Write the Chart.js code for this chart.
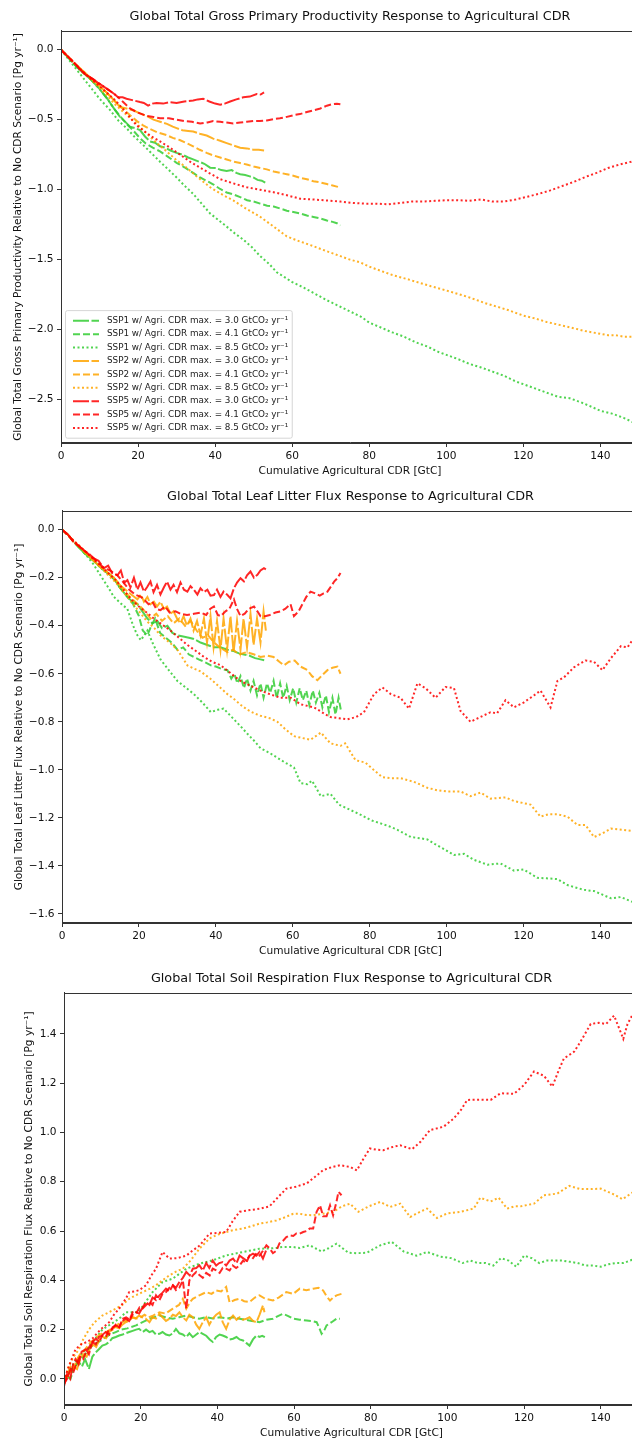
<!DOCTYPE html>
<html><head><meta charset="utf-8">
<script src="https://cdn.jsdelivr.net/npm/chart.js@4.4.1/dist/chart.umd.min.js"></script>
<style>
html,body{margin:0;padding:0;background:#fff;}
#wrap{position:relative;width:632px;height:1438px;overflow:hidden;background:#fff;}
canvas{position:absolute;left:0;}
</style></head><body>
<div id="wrap">
<canvas id="c1" width="650" height="480" style="top:0px"></canvas>
<canvas id="c2" width="650" height="480" style="top:480px"></canvas>
<canvas id="c3" width="650" height="480" style="top:962px"></canvas>
</div>
<script>
// ---------- tick labels ----------
const xTicks = [0, 20, 40, 60, 80, 100, 120, 140];
const gppYTicks = [0.0, -0.5, -1.0, -1.5, -2.0, -2.5];
const litYTicks = [0.0, -0.2, -0.4, -0.6, -0.8, -1.0, -1.2, -1.4, -1.6];
const soilYTicks = [0.0, 0.2, 0.4, 0.6, 0.8, 1.0, 1.2, 1.4];

// ---------- series labels ----------
const seriesLabels = [
  'SSP1 w/ Agri. CDR max. = 3.0 GtCO₂ yr⁻¹',
  'SSP1 w/ Agri. CDR max. = 4.1 GtCO₂ yr⁻¹',
  'SSP1 w/ Agri. CDR max. = 8.5 GtCO₂ yr⁻¹',
  'SSP2 w/ Agri. CDR max. = 3.0 GtCO₂ yr⁻¹',
  'SSP2 w/ Agri. CDR max. = 4.1 GtCO₂ yr⁻¹',
  'SSP2 w/ Agri. CDR max. = 8.5 GtCO₂ yr⁻¹',
  'SSP5 w/ Agri. CDR max. = 3.0 GtCO₂ yr⁻¹',
  'SSP5 w/ Agri. CDR max. = 4.1 GtCO₂ yr⁻¹',
  'SSP5 w/ Agri. CDR max. = 8.5 GtCO₂ yr⁻¹'
];

// ---------- GPP panel data [cumulative CDR GtC, response Pg/yr] ----------
const gppSSP1_30 = [[0,0],[2,-0.06],[4,-0.12],[6,-0.17],[8,-0.22],[10,-0.28],[12,-0.35],[14,-0.43],[15.3,-0.48],[16.5,-0.51],[17.9,-0.55],[19.2,-0.56],[20.5,-0.575],[21.8,-0.62],[23.1,-0.655],[24.4,-0.665],[25.7,-0.69],[27,-0.70],[28.4,-0.72],[30,-0.737],[31.5,-0.75],[33,-0.77],[34.3,-0.784],[35.8,-0.80],[37.2,-0.815],[38.7,-0.843],[40.2,-0.845],[41.6,-0.86],[43,-0.866],[44.3,-0.86],[45.5,-0.88],[46.5,-0.89],[47.8,-0.895],[49,-0.905],[49.9,-0.913],[51,-0.93],[52.1,-0.936],[53,-0.95]];
const gppSSP1_41 = [[0,0],[2,-0.06],[4,-0.12],[6,-0.17],[8,-0.22],[10,-0.28],[12,-0.35],[14,-0.43],[15.5,-0.48],[17,-0.53],[18.5,-0.57],[20.5,-0.632],[22,-0.67],[23.8,-0.70],[25.7,-0.726],[27.5,-0.76],[30,-0.808],[32,-0.84],[34,-0.875],[36.1,-0.913],[38,-0.94],[39.7,-0.965],[41.3,-0.995],[43,-1.02],[44.8,-1.035],[46.5,-1.053],[48.3,-1.075],[50,-1.085],[51.7,-1.10],[53.5,-1.115],[55.2,-1.12],[56.9,-1.135],[58.6,-1.15],[60.3,-1.16],[62.1,-1.17],[63.8,-1.185],[65.5,-1.195],[67.3,-1.206],[69,-1.22],[70.5,-1.23],[71.6,-1.24],[72.5,-1.255]];
const gppSSP1_85 = [[0,0],[2,-0.07],[4,-0.14],[6,-0.21],[8,-0.28],[10,-0.35],[12.7,-0.43],[15,-0.51],[17,-0.56],[19,-0.62],[21.3,-0.68],[23.5,-0.74],[25.7,-0.80],[28,-0.86],[30,-0.913],[32,-0.97],[34.3,-1.03],[36.5,-1.10],[38.7,-1.17],[41,-1.22],[43,-1.264],[45,-1.31],[47.3,-1.357],[49.5,-1.41],[51.7,-1.475],[54,-1.53],[56,-1.59],[58,-1.625],[60,-1.66],[63,-1.70],[66,-1.745],[69,-1.79],[72,-1.83],[75,-1.87],[78,-1.91],[80,-1.95],[83,-1.985],[86,-2.02],[89,-2.05],[92,-2.09],[95,-2.12],[98,-2.16],[100,-2.18],[103,-2.21],[106,-2.245],[109,-2.27],[112,-2.30],[115,-2.33],[118,-2.37],[120,-2.39],[123,-2.42],[126,-2.45],[129,-2.48],[132,-2.49],[135,-2.52],[138,-2.555],[140,-2.58],[143,-2.60],[146,-2.63],[148.3,-2.66],[150,-2.68]];
const gppSSP2_30 = [[0,0],[2,-0.055],[4,-0.11],[6,-0.16],[8,-0.21],[10,-0.26],[12,-0.31],[13.8,-0.36],[15.3,-0.41],[17,-0.42],[18.7,-0.433],[20.5,-0.455],[22.2,-0.473],[24,-0.50],[25.7,-0.515],[27.5,-0.53],[29,-0.55],[30,-0.56],[31.5,-0.575],[33,-0.58],[34.3,-0.585],[36,-0.60],[37.8,-0.613],[39.5,-0.635],[41.3,-0.65],[43,-0.667],[44.8,-0.685],[46.5,-0.70],[48.2,-0.705],[49.9,-0.714],[51.3,-0.715],[52.7,-0.72]];
const gppSSP2_41 = [[0,0],[2,-0.055],[4,-0.11],[6,-0.16],[8,-0.21],[10,-0.26],[12,-0.31],[14,-0.37],[16,-0.42],[18,-0.47],[19.7,-0.51],[21.3,-0.54],[23,-0.565],[25,-0.59],[27.4,-0.61],[29,-0.63],[30.8,-0.645],[32.6,-0.667],[34.3,-0.69],[36,-0.715],[37.8,-0.737],[39.5,-0.755],[41.3,-0.77],[43,-0.784],[44.8,-0.80],[46.5,-0.81],[48.2,-0.82],[50,-0.835],[51.7,-0.845],[53.4,-0.855],[55.2,-0.87],[56.9,-0.88],[58.6,-0.89],[60.3,-0.90],[62,-0.915],[63.8,-0.925],[65.5,-0.94],[67.3,-0.948],[69,-0.96],[70.5,-0.97],[71.6,-0.978],[72.5,-0.985]];
const gppSSP2_85 = [[0,0],[2,-0.055],[4,-0.11],[6,-0.17],[8,-0.22],[10,-0.27],[12,-0.33],[14,-0.39],[16,-0.44],[18,-0.49],[19.7,-0.53],[21.3,-0.573],[23,-0.62],[25,-0.67],[27.4,-0.726],[30,-0.79],[32.6,-0.843],[35,-0.90],[38.7,-0.983],[41.5,-1.03],[44.7,-1.077],[48,-1.135],[51.7,-1.194],[55,-1.26],[58.6,-1.334],[62,-1.37],[65.5,-1.404],[69,-1.44],[72.5,-1.475],[75,-1.50],[77.7,-1.52],[80,-1.55],[83,-1.58],[86,-1.61],[90,-1.64],[93,-1.665],[96,-1.69],[100,-1.72],[103,-1.745],[106,-1.77],[110,-1.81],[113,-1.835],[116,-1.86],[120,-1.90],[123,-1.92],[126,-1.945],[130,-1.97],[133,-1.99],[136,-2.01],[140,-2.03],[142,-2.04],[144,-2.04],[146,-2.05],[148.3,-2.05],[150,-2.06]];
const gppSSP5_30 = [[0,0],[2,-0.055],[4,-0.11],[4.9,-0.14],[6.5,-0.18],[8.3,-0.21],[9.5,-0.235],[10.9,-0.26],[12.5,-0.29],[14,-0.32],[14.8,-0.34],[16,-0.34],[17,-0.35],[18.5,-0.36],[20.5,-0.374],[21.5,-0.38],[22.6,-0.40],[23.7,-0.385],[24.8,-0.38],[26.5,-0.385],[28,-0.375],[30,-0.38],[32,-0.37],[34.3,-0.363],[35.5,-0.355],[36.9,-0.35],[38.5,-0.37],[40,-0.385],[41.3,-0.393],[42.5,-0.385],[43.9,-0.37],[45.5,-0.355],[47.3,-0.34],[49,-0.335],[50.8,-0.316],[51.8,-0.32],[52.7,-0.305]];
const gppSSP5_41 = [[0,0],[2,-0.055],[4,-0.11],[4.9,-0.14],[6.5,-0.18],[8.3,-0.21],[10.9,-0.26],[12.5,-0.29],[14,-0.32],[14.8,-0.34],[16,-0.37],[17.9,-0.42],[20,-0.45],[22.2,-0.473],[24,-0.48],[25.7,-0.49],[28,-0.49],[30,-0.50],[32,-0.51],[34,-0.515],[36.1,-0.527],[38,-0.52],[39.5,-0.51],[41.3,-0.515],[43,-0.52],[44.7,-0.527],[46.5,-0.52],[48.2,-0.515],[49.9,-0.51],[51.6,-0.51],[53.4,-0.505],[55.1,-0.496],[56.8,-0.49],[58.6,-0.48],[60.3,-0.468],[62,-0.46],[63.8,-0.445],[65.5,-0.433],[67.3,-0.42],[69,-0.40],[70.3,-0.39],[71.6,-0.386],[72.5,-0.39]];
const gppSSP5_85 = [[0,0],[2,-0.055],[4,-0.11],[6,-0.165],[8,-0.215],[10,-0.26],[12,-0.31],[14,-0.36],[16,-0.42],[17.5,-0.47],[19.6,-0.54],[21.5,-0.58],[23.5,-0.62],[25.7,-0.655],[28.3,-0.70],[30.9,-0.75],[33.5,-0.80],[36.1,-0.843],[38.7,-0.885],[41.3,-0.925],[44.7,-0.955],[48.2,-0.983],[51.6,-1.0],[55.1,-1.018],[58.6,-1.04],[62.1,-1.065],[65.5,-1.07],[69,-1.077],[72.5,-1.085],[75.9,-1.095],[79,-1.10],[82,-1.10],[85,-1.105],[88,-1.095],[91,-1.085],[94,-1.085],[97,-1.08],[100,-1.075],[103,-1.075],[106,-1.08],[109,-1.07],[112,-1.085],[115,-1.085],[118,-1.07],[121,-1.05],[124,-1.03],[127,-1.005],[130,-0.975],[133,-0.945],[136,-0.91],[139,-0.88],[142,-0.845],[145,-0.82],[148,-0.80],[150,-0.78]];

// ---------- Leaf litter panel data ----------
const litSSP1_30 = [[0,0],[1.5,-0.02],[3,-0.05],[4.5,-0.075],[6,-0.10],[8.3,-0.13],[10.5,-0.165],[12.6,-0.19],[14,-0.215],[15,-0.24],[16,-0.26],[17,-0.28],[18.3,-0.30],[19.6,-0.31],[20.9,-0.34],[22.2,-0.37],[23.5,-0.39],[24.8,-0.38],[26,-0.41],[27.4,-0.40],[28.7,-0.43],[30,-0.44],[31.5,-0.445],[33,-0.45],[34.3,-0.455],[36,-0.47],[37.8,-0.48],[39.5,-0.49],[41.2,-0.49],[43,-0.50],[44.5,-0.505],[46,-0.515],[47.3,-0.52],[48.8,-0.525],[50.2,-0.535],[51.6,-0.54],[53,-0.545]];
const litSSP1_41 = [[0,0],[1.5,-0.02],[3,-0.05],[4.5,-0.075],[6,-0.10],[8.3,-0.13],[10.5,-0.165],[12.6,-0.19],[14,-0.215],[15,-0.24],[17,-0.28],[18.5,-0.31],[20,-0.36],[21,-0.42],[22.2,-0.44],[23.2,-0.40],[24.2,-0.37],[25.5,-0.43],[27,-0.45],[28.5,-0.47],[30,-0.50],[31.5,-0.49],[33,-0.52],[34.3,-0.53],[35.5,-0.54],[37,-0.55],[38.7,-0.565],[40,-0.57],[41.5,-0.58],[43,-0.585],[44,-0.62],[44.8,-0.60],[45.6,-0.64],[46.4,-0.61],[47.3,-0.66],[48.1,-0.62],[49,-0.67],[49.8,-0.63],[50.7,-0.69],[51.6,-0.64],[52.4,-0.70],[53.3,-0.64],[54.1,-0.68],[55,-0.63],[55.8,-0.70],[56.7,-0.64],[57.5,-0.70],[58.4,-0.65],[59.2,-0.71],[60.1,-0.66],[60.9,-0.72],[61.8,-0.66],[62.6,-0.71],[63.5,-0.67],[64.3,-0.73],[65.2,-0.67],[66,-0.72],[66.9,-0.68],[67.7,-0.74],[68.6,-0.69],[69.4,-0.76],[70.3,-0.70],[71.1,-0.77],[71.9,-0.70],[72.6,-0.76]];
const litSSP1_85 = [[0,0],[2,-0.03],[4,-0.065],[6,-0.10],[8,-0.14],[10,-0.19],[12,-0.24],[13.5,-0.28],[15.5,-0.31],[17,-0.33],[18.5,-0.40],[19.6,-0.44],[20.5,-0.46],[22.2,-0.42],[23.5,-0.47],[25.6,-0.54],[28,-0.59],[30,-0.63],[32,-0.655],[34.3,-0.685],[36.5,-0.72],[38.7,-0.76],[40.5,-0.75],[42,-0.745],[44.7,-0.79],[46.5,-0.82],[48.2,-0.85],[50,-0.88],[51.6,-0.91],[54,-0.93],[56,-0.95],[58,-0.97],[60.3,-0.99],[62,-1.055],[63.8,-1.06],[65,-1.045],[67.3,-1.11],[69.8,-1.10],[72,-1.145],[74,-1.16],[76,-1.175],[78,-1.19],[80.3,-1.21],[83.2,-1.225],[85,-1.235],[87.2,-1.25],[90.7,-1.28],[93,-1.285],[95,-1.29],[97,-1.31],[99.3,-1.33],[101.9,-1.355],[104.5,-1.35],[107.1,-1.375],[110.6,-1.395],[114,-1.39],[117.5,-1.42],[120,-1.415],[123.6,-1.45],[126,-1.452],[128.8,-1.455],[131.4,-1.48],[133.5,-1.49],[135.7,-1.50],[138.3,-1.505],[140.5,-1.52],[142.7,-1.535],[145.3,-1.53],[148.3,-1.55],[150,-1.56]];
const litSSP2_30 = [[0,0],[1.5,-0.02],[3,-0.05],[4.5,-0.07],[6,-0.095],[8,-0.125],[10,-0.155],[12,-0.18],[13.5,-0.20],[15,-0.23],[16.5,-0.25],[18,-0.27],[19.6,-0.29],[20.5,-0.27],[21.3,-0.30],[22.2,-0.28],[23,-0.31],[23.9,-0.30],[24.7,-0.32],[25.6,-0.30],[26.5,-0.33],[27.3,-0.32],[28.2,-0.35],[29,-0.34],[29.9,-0.37],[30.8,-0.39],[31.6,-0.36],[32.5,-0.40],[33.4,-0.37],[34.2,-0.42],[35.1,-0.38],[36,-0.44],[36.9,-0.37],[37.7,-0.47],[38.6,-0.36],[39.4,-0.49],[40.3,-0.38],[41.2,-0.50],[42,-0.37],[42.9,-0.50],[43.8,-0.36],[44.6,-0.51],[45.5,-0.38],[46.4,-0.50],[47.2,-0.37],[48.1,-0.49],[49,-0.35],[49.8,-0.48],[50.7,-0.37],[51.6,-0.47],[52.4,-0.34],[53,-0.42]];
const litSSP2_41 = [[0,0],[1.5,-0.02],[3,-0.05],[4.5,-0.07],[6,-0.095],[8,-0.125],[10,-0.155],[12,-0.18],[13.5,-0.20],[15,-0.23],[17,-0.27],[19,-0.30],[21,-0.33],[23,-0.37],[24.5,-0.35],[26,-0.38],[27.5,-0.36],[29,-0.39],[30.5,-0.37],[32,-0.40],[33.5,-0.38],[35,-0.42],[36.5,-0.45],[38,-0.44],[39.5,-0.47],[41,-0.49],[43,-0.51],[44.5,-0.50],[46,-0.52],[48,-0.51],[50,-0.52],[51.6,-0.53],[53.5,-0.525],[55,-0.53],[56.5,-0.55],[57.7,-0.565],[59,-0.55],[60.5,-0.545],[62,-0.57],[63.8,-0.585],[65,-0.61],[66.4,-0.627],[67.7,-0.605],[69,-0.585],[70.3,-0.575],[71.6,-0.57],[72.4,-0.60]];
const litSSP2_85 = [[0,0],[2,-0.03],[4,-0.06],[6,-0.09],[8,-0.125],[10,-0.155],[12,-0.19],[14,-0.22],[16,-0.26],[18,-0.30],[20,-0.34],[22,-0.38],[24,-0.41],[25.6,-0.44],[28,-0.47],[30,-0.50],[32.6,-0.565],[34.5,-0.58],[36,-0.59],[38.5,-0.62],[41.3,-0.66],[43,-0.685],[44.7,-0.705],[46.5,-0.73],[48.2,-0.75],[50,-0.765],[51.6,-0.775],[54,-0.785],[56,-0.80],[58,-0.83],[60.3,-0.86],[62,-0.866],[64.6,-0.875],[67.3,-0.845],[69.8,-0.89],[72.4,-0.90],[73.6,-0.89],[76.3,-0.96],[78.9,-0.97],[81,-1.0],[83.2,-1.03],[85.5,-1.035],[88,-1.035],[91.5,-1.05],[95,-1.075],[97.5,-1.085],[100.2,-1.09],[103.6,-1.09],[106.2,-1.11],[108.8,-1.095],[111.4,-1.12],[115.3,-1.115],[117.5,-1.13],[121.8,-1.145],[124.4,-1.195],[126.5,-1.185],[128.8,-1.185],[131.4,-1.195],[134,-1.23],[136.1,-1.23],[138.3,-1.28],[140.5,-1.265],[142.7,-1.245],[145.7,-1.25],[148.3,-1.255],[150,-1.255]];
const litSSP5_30 = [[0,0],[1.5,-0.02],[3,-0.05],[4.5,-0.07],[6,-0.09],[7,-0.10],[8.3,-0.12],[9.5,-0.13],[10.9,-0.16],[12,-0.15],[13,-0.18],[14.4,-0.19],[15.3,-0.17],[16.2,-0.22],[17,-0.21],[17.8,-0.24],[18.7,-0.20],[19.6,-0.25],[20.4,-0.22],[21.3,-0.258],[22.1,-0.24],[23,-0.216],[23.8,-0.26],[24.7,-0.23],[25.6,-0.27],[26.5,-0.24],[27.3,-0.216],[28.2,-0.25],[29,-0.23],[29.9,-0.26],[30.8,-0.22],[31.7,-0.25],[32.6,-0.258],[33.4,-0.235],[34.3,-0.25],[35.2,-0.27],[36,-0.244],[36.9,-0.26],[37.8,-0.25],[38.6,-0.275],[39.5,-0.272],[40.3,-0.25],[41.2,-0.28],[42,-0.258],[42.9,-0.27],[43.8,-0.286],[44.7,-0.244],[45.5,-0.22],[46.4,-0.202],[47.3,-0.215],[48.1,-0.19],[49,-0.174],[49.9,-0.20],[50.8,-0.188],[51.6,-0.17],[52.5,-0.16],[53,-0.165]];
const litSSP5_41 = [[0,0],[1.5,-0.02],[3,-0.05],[4.5,-0.07],[6,-0.09],[8.3,-0.12],[10.9,-0.16],[12.5,-0.17],[14.4,-0.19],[16,-0.22],[17.5,-0.25],[19,-0.27],[20.5,-0.28],[21.3,-0.29],[22.5,-0.31],[23.5,-0.30],[24.5,-0.33],[25.6,-0.335],[26.8,-0.32],[28,-0.345],[29.5,-0.34],[30.8,-0.35],[32.5,-0.355],[34.3,-0.35],[36,-0.345],[37.5,-0.355],[38.5,-0.33],[39.5,-0.32],[40.5,-0.355],[41.3,-0.36],[42.5,-0.34],[43.5,-0.33],[44.7,-0.29],[45.5,-0.33],[46.4,-0.36],[47.5,-0.35],[48.5,-0.33],[49.9,-0.32],[50.8,-0.34],[51.6,-0.36],[52.8,-0.36],[54,-0.355],[55.5,-0.345],[56.8,-0.34],[58,-0.33],[59.4,-0.31],[60.3,-0.36],[61.5,-0.34],[62.5,-0.31],[63.5,-0.28],[64.6,-0.258],[65.8,-0.265],[67,-0.275],[68,-0.265],[69,-0.258],[70,-0.235],[70.8,-0.215],[71.6,-0.202],[72.4,-0.18]];
const litSSP5_85 = [[0,0],[2,-0.03],[4,-0.06],[6,-0.09],[8,-0.12],[10,-0.15],[12,-0.18],[14,-0.21],[16,-0.25],[18,-0.29],[20,-0.32],[22,-0.345],[23.9,-0.37],[26,-0.395],[28.2,-0.42],[30.4,-0.45],[32.6,-0.48],[34.8,-0.505],[36.9,-0.53],[39,-0.55],[41.3,-0.565],[44,-0.60],[46.4,-0.63],[49,-0.65],[51.6,-0.67],[54,-0.685],[56.8,-0.70],[59.5,-0.70],[62,-0.727],[65.5,-0.74],[68.6,-0.77],[69.8,-0.78],[72,-0.785],[74.2,-0.79],[76.5,-0.78],[78.5,-0.76],[81.1,-0.685],[83.3,-0.657],[85.5,-0.685],[88,-0.70],[90.2,-0.745],[92.4,-0.64],[94.5,-0.66],[97.1,-0.70],[99.7,-0.655],[101.9,-0.66],[103.6,-0.755],[106.2,-0.80],[108.8,-0.78],[111.4,-0.76],[113.1,-0.765],[115.3,-0.71],[117.5,-0.74],[120,-0.72],[122.7,-0.69],[124.4,-0.67],[127,-0.74],[128.8,-0.63],[130.5,-0.615],[133.1,-0.573],[136.1,-0.545],[138.3,-0.55],[140.5,-0.585],[142.7,-0.535],[145.3,-0.485],[147,-0.49],[148.3,-0.46],[150,-0.45]];

// ---------- Soil respiration panel data ----------
const soilSSP1_30 = [[0,-0.02],[0.8,0.01],[1.7,0.0],[2.5,0.04],[3.2,0.06],[3.9,0.068],[4.7,0.05],[5.5,0.08],[6.5,0.04],[7.4,0.09],[8.3,0.108],[9.1,0.12],[10,0.135],[10.9,0.14],[11.8,0.15],[12.6,0.165],[13.5,0.17],[14.4,0.176],[15.3,0.18],[16.1,0.185],[17,0.19],[17.9,0.195],[18.8,0.20],[19.6,0.203],[20.5,0.19],[21.4,0.20],[22.3,0.19],[23.1,0.195],[24,0.18],[24.9,0.183],[25.7,0.19],[26.6,0.18],[27.5,0.176],[28.4,0.185],[29.2,0.203],[30.1,0.185],[31,0.18],[31.9,0.17],[32.7,0.185],[33.6,0.169],[34.5,0.18],[35.4,0.19],[36.2,0.183],[37.1,0.175],[38,0.16],[38.8,0.15],[39.7,0.17],[40.6,0.18],[41.4,0.176],[42.3,0.17],[43.2,0.16],[44.1,0.163],[45,0.17],[45.8,0.16],[46.7,0.156],[47.6,0.145],[48.4,0.135],[49.3,0.16],[50.2,0.176],[51,0.17],[51.7,0.175],[52.4,0.169]];
const soilSSP1_41 = [[0,-0.01],[1,0.02],[2,0.04],[3,0.05],[4,0.08],[5,0.09],[6,0.11],[7,0.13],[8,0.14],[9,0.15],[10,0.16],[11,0.17],[12,0.18],[13.5,0.19],[15,0.20],[16.5,0.205],[18.8,0.217],[20.5,0.23],[22.3,0.244],[23.5,0.25],[24.9,0.257],[26.5,0.25],[28.4,0.244],[30,0.25],[31.9,0.257],[33.5,0.25],[35.3,0.244],[37,0.25],[38.8,0.245],[40.6,0.25],[42.5,0.245],[44,0.25],[45.8,0.244],[47.5,0.24],[49,0.235],[51,0.23],[52.8,0.24],[54.5,0.244],[55.8,0.255],[57.1,0.264],[58.5,0.255],[59.8,0.244],[61.5,0.24],[63.3,0.237],[64.6,0.235],[65.9,0.23],[66.5,0.21],[67.2,0.183],[68,0.20],[68.5,0.217],[69.8,0.23],[71.1,0.244],[72,0.244]];
const soilSSP1_85 = [[0,-0.01],[1,0.02],[2,0.05],[3,0.07],[4,0.09],[5,0.11],[6,0.12],[7,0.14],[8,0.16],[9,0.18],[10,0.20],[11,0.21],[12,0.22],[13.5,0.235],[14.8,0.25],[16.1,0.27],[17.8,0.27],[19.4,0.27],[21.2,0.31],[23.1,0.352],[25.7,0.393],[28.4,0.407],[31.9,0.447],[35.3,0.467],[38.8,0.481],[42.3,0.501],[46.7,0.515],[51,0.528],[54.5,0.53],[57,0.535],[59.8,0.535],[61.5,0.531],[64.1,0.542],[67.2,0.517],[69,0.53],[71.1,0.549],[74.2,0.512],[76.5,0.51],[79,0.512],[82.5,0.542],[85.5,0.556],[88.6,0.517],[92,0.50],[94.7,0.515],[98.2,0.496],[101,0.49],[104,0.47],[106,0.48],[108,0.47],[110,0.47],[112,0.46],[114,0.49],[116,0.48],[118,0.455],[120,0.50],[122,0.49],[124,0.47],[126,0.48],[128,0.48],[130,0.48],[132,0.475],[134,0.47],[136,0.46],[138,0.46],[140,0.455],[142,0.465],[144,0.47],[146,0.47],[148.3,0.484],[150,0.49]];
const soilSSP2_30 = [[0,-0.02],[0.8,0.01],[1.7,0.03],[2.5,0.05],[3.4,0.04],[4.2,0.08],[5,0.10],[5.9,0.09],[6.7,0.12],[7.6,0.14],[8.4,0.13],[9.3,0.16],[10.1,0.17],[11,0.165],[11.8,0.19],[12.7,0.20],[13.5,0.21],[14.4,0.205],[15.2,0.22],[16.1,0.23],[17,0.235],[17.8,0.25],[18.7,0.245],[19.6,0.257],[20.4,0.25],[21.3,0.245],[22.3,0.23],[23.1,0.25],[24,0.245],[24.9,0.264],[25.7,0.25],[26.6,0.235],[27.5,0.244],[28.4,0.26],[29.2,0.255],[30.1,0.27],[31,0.25],[31.9,0.237],[32.7,0.26],[33.6,0.25],[34.5,0.22],[35.3,0.203],[36.2,0.23],[37.1,0.25],[37.9,0.22],[38.8,0.245],[39.7,0.26],[40.6,0.27],[41.4,0.23],[42.3,0.203],[43.2,0.24],[44.1,0.257],[45,0.24],[45.8,0.25],[46.7,0.24],[47.6,0.244],[48.4,0.25],[49.3,0.235],[50.2,0.23],[51,0.26],[51.9,0.298],[52.3,0.27]];
const soilSSP2_41 = [[0,-0.01],[0.8,0.02],[1.7,0.05],[2.5,0.04],[3.4,0.08],[4.2,0.10],[5,0.11],[6,0.13],[7,0.15],[8,0.16],[9,0.175],[10,0.185],[11,0.19],[12,0.20],[13,0.205],[14,0.22],[15,0.23],[16,0.235],[17,0.24],[18,0.25],[19,0.245],[20,0.25],[21,0.26],[22,0.25],[23,0.255],[24.9,0.27],[26.5,0.265],[28.4,0.285],[30,0.30],[31,0.325],[31.9,0.285],[32.8,0.31],[33.6,0.325],[35.3,0.339],[37.1,0.352],[38.5,0.345],[39.7,0.359],[41,0.355],[42.3,0.373],[43.2,0.31],[44.5,0.32],[45.8,0.325],[47,0.315],[48.4,0.312],[49.8,0.33],[51,0.339],[52.5,0.325],[54.5,0.318],[56,0.33],[58,0.352],[59.8,0.345],[61.5,0.366],[63.2,0.36],[65,0.366],[66.4,0.37],[67.6,0.359],[68.5,0.335],[69.4,0.318],[70.2,0.33],[71.1,0.339],[72.4,0.345]];
const soilSSP2_85 = [[0,-0.01],[1.3,0.054],[2.5,0.09],[3.9,0.12],[5,0.16],[6.5,0.20],[8,0.23],[10,0.257],[11.7,0.27],[13.5,0.285],[15.2,0.30],[17,0.325],[18.8,0.34],[20.5,0.352],[22.3,0.365],[24,0.38],[25.7,0.40],[27.5,0.42],[29.2,0.435],[31,0.447],[33,0.48],[35.3,0.528],[38,0.57],[40,0.585],[42.3,0.596],[44.5,0.605],[46.7,0.61],[49,0.62],[51,0.63],[53,0.635],[55.4,0.643],[57.5,0.655],[59.8,0.67],[61.5,0.67],[63.3,0.665],[65,0.664],[67.5,0.67],[70.2,0.678],[72.5,0.70],[74.6,0.711],[76.8,0.678],[79.5,0.70],[82.5,0.718],[85.1,0.698],[87.7,0.711],[90.3,0.657],[92.5,0.675],[94.7,0.691],[97.3,0.653],[99.9,0.671],[103.4,0.678],[106.9,0.691],[108.6,0.735],[111.3,0.72],[113.4,0.735],[115.6,0.691],[117.5,0.70],[119.1,0.70],[122.6,0.711],[125.2,0.745],[128.7,0.752],[131.8,0.783],[134.8,0.77],[137.5,0.77],[140,0.772],[143.5,0.748],[145.7,0.729],[148.3,0.756],[150,0.76]];
const soilSSP5_30 = [[0,-0.03],[0.8,0.02],[1.6,0.0],[2.4,0.06],[3,0.08],[3.8,0.06],[4.6,0.11],[5.7,0.12],[6.5,0.10],[7.4,0.15],[8.3,0.163],[9.2,0.15],[10.1,0.18],[10.9,0.19],[11.8,0.18],[12.7,0.21],[13.5,0.217],[14.4,0.21],[15.2,0.235],[16.1,0.244],[17,0.235],[17.9,0.26],[18.8,0.27],[19.6,0.265],[20.5,0.29],[21.4,0.312],[22.3,0.30],[23.1,0.33],[24,0.32],[24.9,0.339],[25.7,0.35],[26.6,0.366],[27.5,0.355],[28.4,0.38],[29.2,0.37],[30.1,0.393],[31,0.41],[31.9,0.434],[32.8,0.42],[33.6,0.447],[34.5,0.45],[35.3,0.461],[36.2,0.44],[37.1,0.47],[37.9,0.45],[38.8,0.48],[39.7,0.46],[40.5,0.47],[41.4,0.474],[42.3,0.46],[43.2,0.48],[44.1,0.488],[45,0.47],[45.8,0.50],[46.7,0.49],[47.6,0.48],[48.4,0.50],[49.3,0.508],[50.2,0.50],[51,0.515],[51.9,0.488],[52.7,0.52]];
const soilSSP5_41 = [[0,-0.02],[0.8,0.0],[1.7,0.04],[2.5,0.03],[3.4,0.07],[4.2,0.09],[5,0.08],[5.7,0.108],[6.6,0.13],[7.4,0.15],[8.3,0.14],[9.1,0.17],[10,0.176],[10.9,0.17],[11.7,0.20],[12.6,0.203],[13.5,0.22],[14.4,0.21],[15.3,0.244],[16.2,0.25],[17.1,0.24],[17.9,0.27],[18.8,0.265],[19.7,0.29],[20.5,0.285],[21.4,0.30],[22.3,0.312],[23.1,0.30],[24,0.339],[24.9,0.32],[25.7,0.345],[26.6,0.352],[27.5,0.37],[28.4,0.38],[29.2,0.36],[30.1,0.37],[31,0.40],[31.9,0.285],[32.7,0.40],[33.6,0.42],[34.5,0.434],[35.4,0.42],[36.2,0.41],[37.1,0.43],[38,0.42],[38.8,0.447],[39.7,0.44],[40.6,0.43],[41.4,0.45],[42.3,0.447],[43.2,0.44],[44,0.46],[44.9,0.45],[45.8,0.46],[46.7,0.48],[47.5,0.47],[48.4,0.50],[49.3,0.49],[50.2,0.51],[51,0.50],[51.9,0.52],[52.8,0.542],[53.6,0.53],[54.5,0.51],[55.4,0.52],[56.2,0.55],[57.1,0.56],[58,0.575],[58.9,0.582],[59.8,0.58],[60.6,0.59],[61.5,0.589],[62.4,0.596],[63.3,0.60],[64.1,0.61],[65,0.61],[65.9,0.678],[66.8,0.704],[67.6,0.66],[68.5,0.66],[69.4,0.704],[70.2,0.664],[71.1,0.72],[71.6,0.759],[72.4,0.745]];
const soilSSP5_85 = [[0,-0.01],[1,0.04],[2,0.08],[3,0.12],[4.5,0.14],[6,0.15],[7.4,0.163],[9.5,0.20],[11.8,0.23],[13,0.26],[14.4,0.285],[16.1,0.325],[17,0.352],[18.5,0.355],[19.6,0.36],[21.4,0.38],[22.8,0.42],[24,0.447],[25.7,0.515],[27.5,0.488],[29.5,0.49],[31.9,0.50],[33.5,0.52],[35.3,0.54],[38,0.59],[40,0.592],[42.3,0.596],[44,0.64],[45.8,0.678],[48.5,0.685],[51,0.69],[53.6,0.70],[56,0.74],[58,0.772],[60.5,0.78],[63.3,0.793],[65.5,0.82],[67.6,0.847],[70,0.86],[72,0.867],[74.6,0.86],[76.4,0.846],[78,0.89],[79.8,0.935],[81.5,0.93],[83.3,0.928],[85.5,0.94],[87.7,0.948],[90.8,0.932],[93,0.962],[95.5,1.01],[99,1.023],[101.7,1.057],[103.5,1.09],[105.2,1.132],[108.7,1.133],[111.3,1.132],[113.9,1.159],[117.4,1.157],[120,1.192],[122.6,1.247],[125.2,1.23],[127.4,1.186],[129,1.25],[130.4,1.30],[133.1,1.328],[134.8,1.37],[137.4,1.44],[139.5,1.445],[141.4,1.44],[143.5,1.474],[145.9,1.38],[147,1.44],[148.3,1.477],[150,1.49]];

// ---------- styles ----------
const FONT = '"DejaVu Sans", "Liberation Sans", sans-serif';
const sspColors = ['rgba(50,205,50,0.85)', 'rgba(255,165,0,0.85)', 'rgba(255,0,0,0.85)'];
const levelDashes = [[16, 2.5], [7, 3], [2, 2.5]];

Chart.defaults.font.family = FONT;
Chart.defaults.color = '#111';

const framePlugin = {
  id: 'frameBox',
  afterDatasetsDraw(chart) {
    const {ctx, chartArea: a} = chart;
    ctx.save();
    ctx.strokeStyle = '#333';
    ctx.lineWidth = 1;
    ctx.strokeRect(Math.round(a.left) + 0.5, Math.round(a.top) + 0.5, Math.round(a.right - a.left), Math.round(a.bottom - a.top));
    ctx.restore();
  }
};

const legendPlugin = {
  id: 'boxLegend',
  afterDraw(chart, args, opts) {
    if (!opts || !opts.show) return;
    const {ctx, chartArea: a} = chart;
    const ds = chart.data.datasets;
    const fs = 8.8, rowH = 13.4;
    const lastY = a.bottom - 15;
    const firstY = lastY - (ds.length - 1) * rowH;
    ctx.save();
    ctx.font = fs + 'px ' + FONT;
    let maxW = 0;
    ds.forEach(d => { maxW = Math.max(maxW, ctx.measureText(d.label).width); });
    const fx = a.left + 4.5, fy = firstY - rowH / 2 - 3.5;
    const fw = 46 - 4.5 + maxW + 4, fh = (lastY + rowH / 2 + 3.5) - fy;
    ctx.beginPath();
    if (ctx.roundRect) ctx.roundRect(fx, fy, fw, fh, 2); else ctx.rect(fx, fy, fw, fh);
    ctx.fillStyle = 'rgba(255,255,255,0.8)';
    ctx.fill();
    ctx.strokeStyle = 'rgba(204,204,204,0.8)';
    ctx.lineWidth = 1;
    ctx.stroke();
    ds.forEach((d, i) => {
      const y = firstY + i * rowH;
      ctx.beginPath();
      ctx.setLineDash(d.borderDash || []);
      ctx.strokeStyle = d.borderColor;
      ctx.lineWidth = d.borderWidth;
      ctx.moveTo(a.left + 12, y);
      ctx.lineTo(a.left + 38, y);
      ctx.stroke();
      ctx.setLineDash([]);
      ctx.fillStyle = '#222';
      ctx.textBaseline = 'middle';
      ctx.textAlign = 'left';
      ctx.fillText(d.label, a.left + 46, y);
    });
    ctx.restore();
  }
};

function fmtY(v) {
  if (Math.abs(v) < 1e-9) return '0.0';
  return v.toFixed(1).replace('-', '\u2212');
}

function makePanel(canvasId, cfg) {
  const datasets = cfg.series.map((pts, i) => ({
    label: seriesLabels[i],
    data: pts.map(p => ({x: p[0], y: p[1]})),
    borderColor: sspColors[Math.floor(i / 3)],
    borderDash: levelDashes[i % 3],
    borderWidth: 2,
    pointRadius: 0,
    pointHoverRadius: 0,
    fill: false,
    tension: 0,
    order: 9 - i
  }));
  return new Chart(document.getElementById(canvasId), {
    type: 'line',
    data: {datasets},
    options: {
      responsive: false,
      animation: false,
      devicePixelRatio: 1,
      events: [],
      layout: {padding: {left: 0, right: 11, top: 0, bottom: 0}},
      plugins: {
        legend: {display: false},
        tooltip: {enabled: false},
        title: {
          display: true, text: cfg.title, fullSize: false,
          font: {size: 12.8, weight: 'normal', family: FONT}, color: '#111',
          padding: {top: 9.3, bottom: 6.3}
        },
        boxLegend: {show: !!cfg.legend}
      },
      scales: {
        x: {
          type: 'linear', min: 0, max: 150,
          afterFit(s) { s.height = 37; },
          afterBuildTicks(s) { s.ticks = xTicks.map(v => ({value: v})); },
          ticks: {font: {size: 10.6, family: FONT}, color: '#111', padding: 3, maxRotation: 0, autoSkip: false, callback: v => String(v)},
          grid: {drawOnChartArea: false, drawTicks: true, tickLength: 4, color: '#333'},
          border: {display: true, color: '#333', width: 1},
          title: {display: true, text: 'Cumulative Agricultural CDR [GtC]', font: {size: 10.6, family: FONT}, color: '#111', padding: {top: 0, bottom: 2.6}}
        },
        y: {
          type: 'linear', min: cfg.yMin, max: cfg.yMax,
          afterFit(s) { s.width = cfg.left; },
          afterBuildTicks(s) { s.ticks = cfg.yTicks.map(v => ({value: v})); },
          ticks: {font: {size: 10.6, family: FONT}, color: '#111', padding: 3.5, autoSkip: false, callback: v => fmtY(v)},
          grid: {drawOnChartArea: false, drawTicks: true, tickLength: 4, color: '#333'},
          border: {display: true, color: '#333', width: 1},
          title: {display: true, text: cfg.yTitle, font: {size: 10.6, family: FONT}, color: '#111', padding: {top: cfg.yTitlePad, bottom: 0}}
        }
      }
    },
    plugins: [framePlugin, legendPlugin]
  });
}

makePanel('c1', {
  title: 'Global Total Gross Primary Productivity Response to Agricultural CDR',
  yTitle: 'Global Total Gross Primary Productivity Relative to No CDR Scenario [Pg yr\u207B\u00B9]',
  yMin: -2.81, yMax: 0.134, yTicks: gppYTicks, left: 61, yTitlePad: 11.6, legend: true,
  series: [gppSSP1_30, gppSSP1_41, gppSSP1_85, gppSSP2_30, gppSSP2_41, gppSSP2_85, gppSSP5_30, gppSSP5_41, gppSSP5_85]
});
makePanel('c2', {
  title: 'Global Total Leaf Litter Flux Response to Agricultural CDR',
  yTitle: 'Global Total Leaf Litter Flux Relative to No CDR Scenario [Pg yr\u207B\u00B9]',
  yMin: -1.638, yMax: 0.078, yTicks: litYTicks, left: 62, yTitlePad: 12.6, legend: false,
  series: [litSSP1_30, litSSP1_41, litSSP1_85, litSSP2_30, litSSP2_41, litSSP2_85, litSSP5_30, litSSP5_41, litSSP5_85]
});
makePanel('c3', {
  title: 'Global Total Soil Respiration Flux Response to Agricultural CDR',
  yTitle: 'Global Total Soil Respiration Flux Relative to No CDR Scenario [Pg yr\u207B\u00B9]',
  yMin: -0.106, yMax: 1.566, yTicks: soilYTicks, left: 64, yTitlePad: 23, legend: false,
  series: [soilSSP1_30, soilSSP1_41, soilSSP1_85, soilSSP2_30, soilSSP2_41, soilSSP2_85, soilSSP5_30, soilSSP5_41, soilSSP5_85]
});
</script>
</body></html>
